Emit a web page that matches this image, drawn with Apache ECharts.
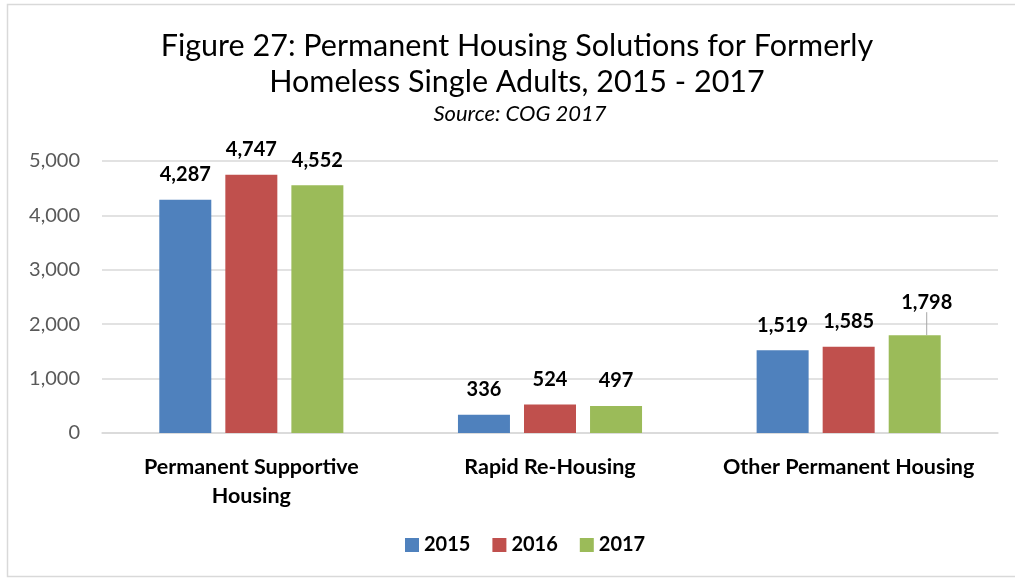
<!DOCTYPE html>
<html>
<head>
<meta charset="utf-8">
<script src="https://cdn.jsdelivr.net/npm/echarts@6/dist/echarts.min.js"></script>
<style>
  html, body { margin: 0; padding: 0; background: #fff; }
  #chart { width: 1015px; height: 581px; }
</style>
</head>
<body>
<div id="chart"></div>
<script>
// chart data
const categories = ['Permanent Supportive\nHousing', 'Rapid Re-Housing', 'Other Permanent Housing'];
const years = ['2015', '2016', '2017'];
const values2015 = [4287, 336, 1519];
const values2016 = [4747, 524, 1585];
const values2017 = [4552, 497, 1798];
const colors = ['#4F81BD', '#C0504D', '#9BBB59'];

const fontFamily = 'Lato, "Open Sans", "Noto Sans", sans-serif';

const chart = echarts.init(document.getElementById('chart'));

function makeSeries(name, data, color, idx) {
    let items = data;
    if (idx === 2) {
        // last label sits a bit higher, with a leader line
        items = data.map((v, i) => i === 2 ? { value: v, labelLine: { show: true } } : v);
    }
    const s = {
        name: name,
        type: 'bar',
        data: items,
        barWidth: 52,
        barGap: '27%',
        itemStyle: { color: color },
        label: {
            show: true,
            position: 'top',
            distance: 15,
            color: '#000',
            fontFamily: fontFamily,
            fontWeight: 'bold',
            fontSize: 20,
            formatter: p => p.value.toLocaleString('en-US')
        },
        labelLine: { show: false, lineStyle: { color: '#a6a6a6', width: 1 } }
    };
    if (idx === 2) {
        s.labelLayout = function (p) {
            if (p.dataIndex === 2) return { dx: 12, dy: -8 };
        };
    }
    return s;
}

chart.setOption({
    animation: false,
    title: [{
        text: 'Figure 27: Permanent Housing Solutions for Formerly\nHomeless Single Adults, 2015 - 2017',
        left: 512,
        top: 23,
        textAlign: 'center',
        textStyle: { fontFamily: fontFamily, fontWeight: 'normal', fontSize: 30.5, lineHeight: 36, color: '#000' }
    }, {
        text: 'Source: COG 2017',
        left: 515,
        top: 98,
        textAlign: 'center',
        textStyle: { fontFamily: fontFamily, fontStyle: 'italic', fontWeight: 'normal', fontSize: 22, color: '#000' }
    }],
    graphic: [{
        type: 'rect',
        shape: { x: 7.5, y: 4.5, width: 1020, height: 572 },
        style: { fill: 'none', stroke: '#d9d9d9', lineWidth: 1.5 },
        silent: true
    }],
    legend: {
        data: years,
        bottom: 21,
        left: 400,
        itemWidth: 14,
        itemHeight: 14,
        itemGap: 22,
        icon: 'rect',
        textStyle: { fontFamily: fontFamily, fontWeight: 'bold', fontSize: 20, color: '#000' }
    },
    grid: { left: 102, right: 17, top: 161, bottom: 148 },
    xAxis: {
        type: 'category',
        data: categories,
        axisLine: { show: true, lineStyle: { color: '#d9d9d9', width: 1.5 } },
        axisTick: { show: false },
        axisLabel: {
            interval: 0,
            hideOverlap: false,
            margin: 20,
            color: '#000',
            fontFamily: fontFamily,
            fontWeight: 'bold',
            fontSize: 21.5,
            lineHeight: 29
        }
    },
    yAxis: {
        type: 'value',
        min: 0,
        max: 5000,
        interval: 1000,
        axisLine: { show: false },
        axisTick: { show: false },
        splitLine: { lineStyle: { color: '#d9d9d9', width: 1.5 } },
        axisLabel: {
            margin: 22,
            color: '#595959',
            fontFamily: fontFamily,
            fontSize: 20,
            formatter: v => v.toLocaleString('en-US')
        }
    },
    series: [
        makeSeries(years[0], values2015, colors[0], 0),
        makeSeries(years[1], values2016, colors[1], 1),
        makeSeries(years[2], values2017, colors[2], 2)
    ]
});
</script>
</body>
</html>
